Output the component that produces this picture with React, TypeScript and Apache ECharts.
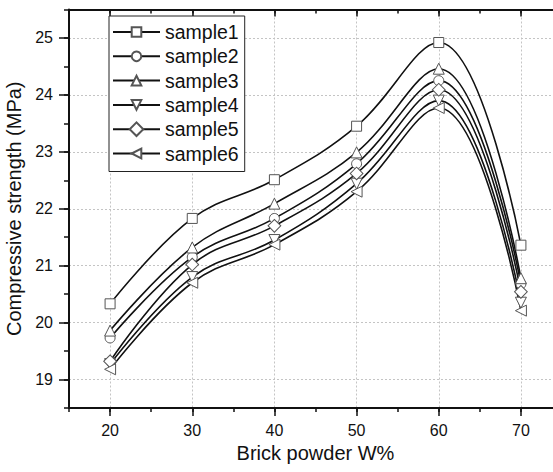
import React, { useEffect, useRef } from "react";
import * as echarts from "echarts";

const xValues = [20, 30, 40, 50, 60, 70];
const sample1 = [20.33, 21.83, 22.51, 23.45, 24.92, 21.36];
const sample2 = [19.73, 21.15, 21.83, 22.79, 24.25, 20.68];
const sample3 = [19.86, 21.32, 22.09, 22.99, 24.46, 20.78];
const sample4 = [19.27, 20.8, 21.45, 22.44, 23.9, 20.35];
const sample5 = [19.32, 21.02, 21.7, 22.62, 24.09, 20.54];
const sample6 = [19.18, 20.7, 21.37, 22.3, 23.77, 20.21];
const seriesNames = ["sample1", "sample2", "sample3", "sample4", "sample5", "sample6"];
const xTickLabels = [20, 30, 40, 50, 60, 70];
const yTickLabels = [19, 20, 21, 22, 23, 24, 25];

const FONT = "Liberation Sans, Arial, sans-serif";

export default function App() {
  const ref = useRef<HTMLDivElement>(null);
  useEffect(() => {
    if (!ref.current) return;
    const chart = echarts.init(ref.current, undefined, { renderer: "svg" });
    const allData = [sample1, sample2, sample3, sample4, sample5, sample6];
    const symbols: [string, number][] = [
      ["rect", 0],
      ["circle", 0],
      ["triangle", 0],
      ["triangle", 180],
      ["rect", 45],
      ["triangle", 90],
    ];
    const sizes = [10, 10, 11, 11, 9, 11];
    const gridLine = { show: true, lineStyle: { color: "#c4c4c4", type: [2, 2] as any, width: 1 } };
    const option: any = {
      animation: false,
      backgroundColor: "#fff",
      textStyle: { fontFamily: FONT },
      grid: { left: 69, top: 9.5, right: -9, bottom: 64, containLabel: false, outerBoundsMode: "none" },
      legend: {
        orient: "vertical",
        left: 109,
        top: 16,
        padding: [6, 6, 8, 3],
        borderColor: "#222",
        borderWidth: 1,
        backgroundColor: "#fff",
        itemWidth: 47,
        itemHeight: 12,
        itemGap: 4.3,
        symbolRotate: "inherit",
        textStyle: { fontSize: 19.5, color: "#111", lineHeight: 20, fontFamily: FONT },
        data: seriesNames,
      },
      xAxis: [
        {
          type: "value",
          min: 15,
          max: 75,
          interval: 5,
          position: "bottom",
          name: "Brick powder W%",
          nameLocation: "middle",
          nameGap: 34,
          nameTextStyle: { fontSize: 20, color: "#111", fontFamily: FONT },
          axisLine: { show: true, lineStyle: { color: "#111", width: 2 } },
          axisTick: { show: true, customValues: xTickLabels, length: 8, lineStyle: { color: "#111", width: 1.5 } },
          axisLabel: { customValues: xTickLabels, fontSize: 16, color: "#111", margin: 14, fontFamily: FONT },
          splitLine: gridLine,
        },
        {
          type: "value",
          min: 15,
          max: 75,
          interval: 5,
          position: "bottom",
          axisLine: { show: false },
          axisTick: { show: true, length: 4, lineStyle: { color: "#111", width: 1.5 } },
          axisLabel: { show: false },
          splitLine: { show: false },
        },
        {
          type: "value",
          min: 15,
          max: 75,
          interval: 5,
          position: "top",
          axisLine: { show: true, lineStyle: { color: "#111", width: 2 } },
          axisTick: { show: true, inside: true, customValues: xTickLabels, length: 7, lineStyle: { color: "#111", width: 1.5 } },
          axisLabel: { show: false },
          splitLine: { show: false },
        },
        {
          type: "value",
          min: 15,
          max: 75,
          interval: 5,
          position: "top",
          axisLine: { show: false },
          axisTick: { show: true, inside: true, length: 4, lineStyle: { color: "#111", width: 1.5 } },
          axisLabel: { show: false },
          splitLine: { show: false },
        },
      ],
      yAxis: [
        {
          type: "value",
          min: 18.5,
          max: 25.5,
          interval: 0.5,
          position: "left",
          name: "Compressive strength (MPa)",
          nameLocation: "middle",
          nameGap: 33,
          nameTextStyle: { fontSize: 20, color: "#111", fontFamily: FONT },
          axisLine: { show: true, lineStyle: { color: "#111", width: 2 } },
          axisTick: { show: true, customValues: yTickLabels, length: 10, lineStyle: { color: "#111", width: 1.5 } },
          axisLabel: { customValues: yTickLabels, fontSize: 16, color: "#111", margin: 16, fontFamily: FONT },
          splitLine: gridLine,
        },
        {
          type: "value",
          min: 18.5,
          max: 25.5,
          interval: 0.5,
          position: "left",
          axisLine: { show: false },
          axisTick: { show: true, length: 5, lineStyle: { color: "#111", width: 1.5 } },
          axisLabel: { show: false },
          splitLine: { show: false },
        },
      ],
      series: allData.map((vals, i) => ({
        name: seriesNames[i],
        type: "line",
        xAxisIndex: 0,
        yAxisIndex: 0,
        smooth: 0.4,
        data: vals.map((v, j) => [xValues[j], v]),
        symbol: symbols[i][0],
        symbolRotate: symbols[i][1],
        symbolSize: sizes[i],
        showAllSymbol: true,
        lineStyle: { color: "#111", width: 1.6 },
        itemStyle: { color: "#fff", borderColor: "#555", borderWidth: 1 },
        emphasis: { disabled: true },
        z: 3,
      })),
    };
    chart.setOption(option);
    return () => chart.dispose();
  }, []);
  return <div ref={ref} style={{ width: 553, height: 472, position: "absolute", left: 0, top: 0 }} />;
}
